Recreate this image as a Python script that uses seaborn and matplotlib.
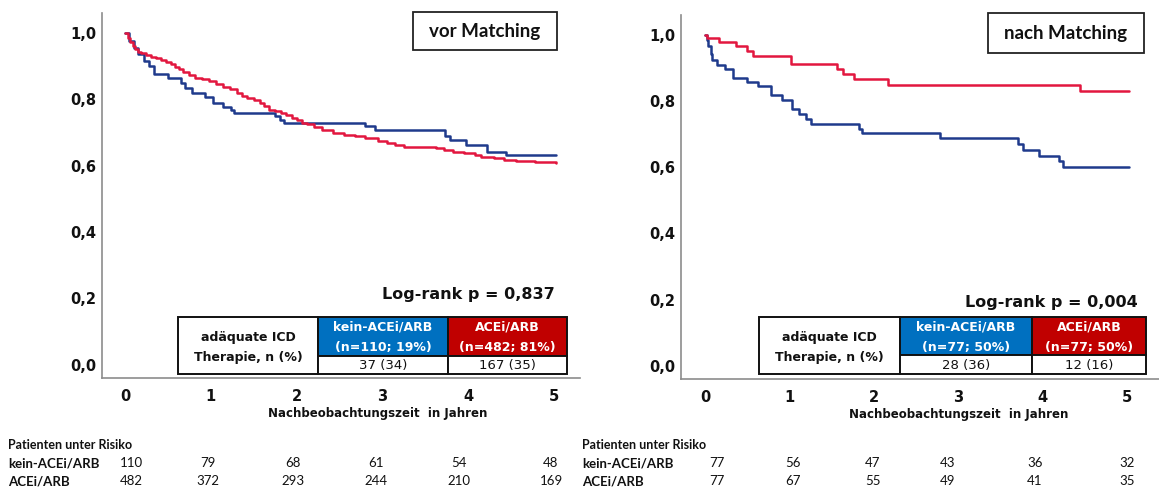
import numpy as np
import pandas as pd
import matplotlib
matplotlib.use("Agg")
import matplotlib.pyplot as plt
from matplotlib.patches import Rectangle
import seaborn as sns

# ---------------- data ----------------
groups = ["kein-ACEi/ARB", "ACEi/ARB"]
x_ticks = [0, 1, 2, 3, 4, 5]
y_ticks = [0.0, 0.2, 0.4, 0.6, 0.8, 1.0]
y_tick_labels = ["0,0", "0,2", "0,4", "0,6", "0,8", "1,0"]

# vor Matching
pre_kein_t = [0, 0.05, 0.1, 0.15, 0.22, 0.28, 0.34, 0.5, 0.65, 0.7, 0.78, 0.93, 1.03, 1.14,
              1.23, 1.27, 1.75, 1.8, 1.85, 2.8, 2.91, 3.73, 3.78, 3.97, 4.22, 4.44, 5.02]
pre_kein_s = [1.0, 0.975, 0.955, 0.935, 0.915, 0.9, 0.877, 0.865, 0.85, 0.835, 0.82, 0.806, 0.79, 0.776,
              0.768, 0.76, 0.749, 0.737, 0.728, 0.719, 0.707, 0.688, 0.678, 0.662, 0.642, 0.632, 0.632]
pre_ace_t = [0, 0.03, 0.06, 0.09, 0.12, 0.15, 0.19, 0.24, 0.3, 0.36, 0.42, 0.48, 0.53, 0.58, 0.63,
             0.68, 0.74, 0.82, 0.9, 0.98, 1.06, 1.14, 1.22, 1.3, 1.36, 1.42, 1.5, 1.57, 1.62, 1.68,
             1.75, 1.82, 1.88, 1.94, 2.0, 2.06, 2.12, 2.2, 2.3, 2.42, 2.55, 2.68, 2.8, 2.95, 3.05,
             3.15, 3.25, 3.45, 3.62, 3.72, 3.82, 3.95, 4.08, 4.15, 4.3, 4.42, 4.55, 4.78, 4.9, 5.02]
pre_ace_s = [1.0, 0.985, 0.972, 0.962, 0.952, 0.943, 0.938, 0.933, 0.928, 0.923, 0.918, 0.912, 0.905, 0.898, 0.89,
             0.882, 0.872, 0.865, 0.86, 0.854, 0.846, 0.838, 0.83, 0.82, 0.81, 0.803, 0.797, 0.79, 0.78, 0.768,
             0.764, 0.76, 0.752, 0.745, 0.738, 0.73, 0.724, 0.717, 0.707, 0.699, 0.693, 0.689, 0.682, 0.675, 0.668,
             0.662, 0.657, 0.655, 0.652, 0.647, 0.642, 0.638, 0.632, 0.627, 0.622, 0.617, 0.615, 0.612, 0.61, 0.608]

# nach Matching
post_kein_t = [0, 0.02, 0.04, 0.07, 0.08, 0.14, 0.24, 0.33, 0.5, 0.63, 0.78, 0.91, 1.03, 1.12, 1.2,
               1.26, 1.82, 1.86, 2.78, 3.71, 3.77, 3.96, 4.19, 4.24, 5.02]
post_kein_s = [1.0, 0.985, 0.965, 0.943, 0.925, 0.91, 0.896, 0.871, 0.859, 0.844, 0.817, 0.804, 0.776, 0.761, 0.746,
               0.731, 0.716, 0.702, 0.687, 0.67, 0.652, 0.635, 0.619, 0.6, 0.6]
post_ace_t = [0, 0.02, 0.17, 0.37, 0.5, 0.57, 1.02, 1.57, 1.63, 1.77, 2.17, 4.44, 5.02]
post_ace_s = [1.0, 0.99, 0.978, 0.965, 0.952, 0.937, 0.911, 0.896, 0.881, 0.866, 0.849, 0.829, 0.829]

titles = ["vor Matching", "nach Matching"]
pvalues = ["Log-rank p = 0,837", "Log-rank p = 0,004"]
table_head = ["kein-ACEi/ARB", "ACEi/ARB"]
table_n = [["(n=110; 19%)", "(n=482; 81%)"], ["(n=77; 50%)", "(n=77; 50%)"]]
table_events = [["37 (34)", "167 (35)"], ["28 (36)", "12 (16)"]]
risk_pre_kein = [110, 79, 68, 61, 54, 48]
risk_pre_ace = [482, 372, 293, 244, 210, 169]
risk_post_kein = [77, 56, 47, 43, 36, 32]
risk_post_ace = [77, 67, 55, 49, 41, 35]

# ---------------- style ----------------
NAVY = "#1F3A8C"
RED = "#E2173F"
TBLUE = "#0070C0"
TRED = "#C00000"
GRAY = "#8C8C8C"

sns.set_theme(style="white")
plt.rcParams["font.family"] = ["DejaVu Sans"]

W, H = 1159, 493
fig = plt.figure(figsize=(W / 100, H / 100), dpi=100)


def fx(x):
    return x / W


def fy(y):
    return 1 - y / H


panels = [
    dict(box=(102, 13, 580, 378), xlim=(-0.268, 5.30),
         curves=[(pre_kein_t, pre_kein_s), (pre_ace_t, pre_ace_s)],
         title_box=(413, 12, 557, 50), p_xy=(555, 295),
         table=(178, 318, 448, 567, 317, 356, 374),
         xlabel_x=0.576,
         risk=(risk_pre_kein, risk_pre_ace), risk_label_x=8,
         risk_x=[131, 208, 293, 376, 459, 551]),
    dict(box=(681, 15, 1159, 379), xlim=(-0.284, 5.38),
         curves=[(post_kein_t, post_kein_s), (post_ace_t, post_ace_s)],
         title_box=(988, 13, 1144, 53), p_xy=(1138, 303),
         table=(759, 900, 1032, 1146, 317, 355, 374),
         xlabel_x=0.58,
         risk=(risk_post_kein, risk_post_ace), risk_label_x=582,
         risk_x=[717, 793, 873, 948, 1035, 1127]),
]

for i, P in enumerate(panels):
    l, t, r, b = P["box"]
    ax = fig.add_axes([fx(l), fy(b), fx(r) - fx(l), fy(t) - fy(b)])
    frames = []
    for g, (tt, ss) in zip(groups, P["curves"]):
        frames.append(pd.DataFrame({"t": tt, "s": ss, "grp": g}))
    df = pd.concat(frames, ignore_index=True)
    sns.lineplot(data=df, x="t", y="s", hue="grp", hue_order=groups,
                 palette={groups[0]: NAVY, groups[1]: RED},
                 estimator=None, sort=False, drawstyle="steps-post",
                 linewidth=1.8, legend=False, ax=ax)
    ax.set_xlim(*P["xlim"])
    ax.set_ylim(-0.04, 1.06)
    ax.set_xticks(x_ticks)
    ax.set_xticklabels([str(v) for v in x_ticks], fontsize=10.5, fontweight="bold")
    ax.set_yticks(y_ticks)
    ax.set_yticklabels(y_tick_labels, fontsize=10.5, fontweight="bold")
    ax.tick_params(axis="x", length=0, pad=8, colors="#111111")
    ax.tick_params(axis="y", length=0, pad=4, colors="#111111")
    for sp in ["top", "right"]:
        ax.spines[sp].set_visible(False)
    for sp in ["left", "bottom"]:
        ax.spines[sp].set_color(GRAY)
        ax.spines[sp].set_linewidth(1.2)
    ax.set_xlabel("Nachbeobachtungszeit  in Jahren", fontsize=8.5, fontweight="bold",
                  labelpad=2, color="#111111")
    ax.xaxis.set_label_coords(P["xlabel_x"], -0.08)
    ax.set_ylabel("")
    ax.grid(False)

    # title box
    x0, y0, x1, y1 = P["title_box"]
    fig.add_artist(Rectangle((fx(x0), fy(y1)), fx(x1) - fx(x0), fy(y0) - fy(y1),
                             transform=fig.transFigure, facecolor="white",
                             edgecolor="#222222", linewidth=1.3))
    fig.text(fx((x0 + x1) / 2), fy((y0 + y1) / 2), titles[i], ha="center", va="center",
             fontsize=13.5, fontweight="bold", family=["Lato", "DejaVu Sans"], color="#111111")

    # log-rank
    px, py = P["p_xy"]
    fig.text(fx(px), fy(py), pvalues[i], ha="right", va="center", fontsize=11.5,
             fontweight="bold", color="#111111")

    # table
    c0, c1, c2, c3, r0, r1, r2 = P["table"]

    def rect(xa, ya, xb, yb, fc):
        fig.add_artist(Rectangle((fx(xa), fy(yb)), fx(xb) - fx(xa), fy(ya) - fy(yb),
                                 transform=fig.transFigure, facecolor=fc,
                                 edgecolor="#111111", linewidth=1.4))

    rect(c0, r0, c1, r2, "white")
    rect(c1, r0, c2, r1, TBLUE)
    rect(c2, r0, c3, r1, TRED)
    rect(c1, r1, c2, r2, "white")
    rect(c2, r1, c3, r2, "white")
    fig.text(fx((c0 + c1) / 2), fy(337), "adäquate ICD", ha="center", va="center",
             fontsize=9, fontweight="bold", color="#111111")
    fig.text(fx((c0 + c1) / 2), fy(358), "Therapie, n (%)", ha="center", va="center",
             fontsize=9, fontweight="bold", color="#111111")
    for j, (ca, cb) in enumerate([(c1, c2), (c2, c3)]):
        fig.text(fx((ca + cb) / 2), fy(r0 + 10), table_head[j], ha="center", va="center",
                 fontsize=9, fontweight="bold", color="white")
        fig.text(fx((ca + cb) / 2), fy(r0 + 30), table_n[i][j], ha="center", va="center",
                 fontsize=9, fontweight="bold", color="white")
        fig.text(fx((ca + cb) / 2), fy((r1 + r2) / 2 + 0.5), table_events[i][j], ha="center",
                 va="center", fontsize=9.5, color="#111111")

    # risk table
    lx = P["risk_label_x"]
    fig.text(fx(lx), fy(445), "Patienten unter Risiko", ha="left", va="center",
             fontsize=9, fontweight="bold", family=["Lato", "DejaVu Sans"], color="#111111")
    for k, (lab, vals) in enumerate(zip(groups, P["risk"])):
        yy = 463 + 18 * k
        fig.text(fx(lx), fy(yy), lab, ha="left", va="center", fontsize=9.5,
                 fontweight="bold", family=["Lato", "DejaVu Sans"], color="#111111")
        for xv, v in zip(P["risk_x"], vals):
            fig.text(fx(xv), fy(yy), str(v), ha="center", va="center", fontsize=9.5,
                     family=["Lato", "DejaVu Sans"], color="#111111")

fig.savefig("out.png", dpi=100, facecolor="white")
